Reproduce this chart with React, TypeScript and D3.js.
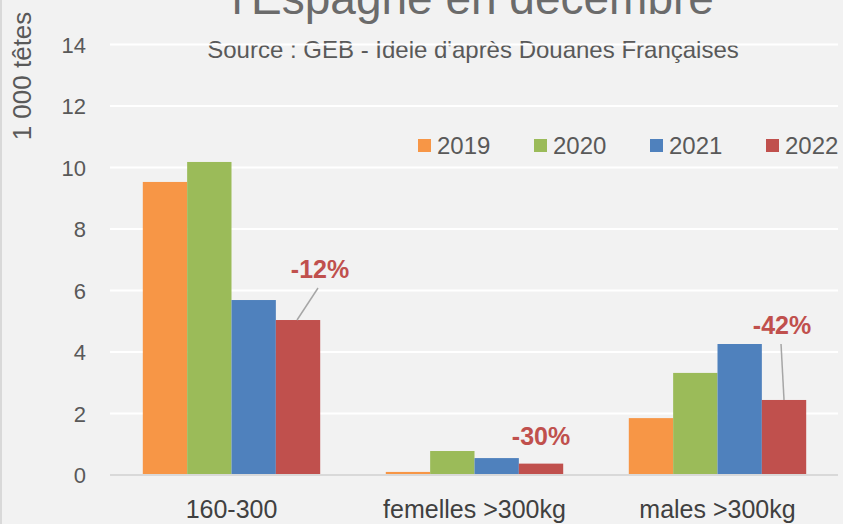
import React from "react";
import * as d3 from "d3";

const categories = ["160-300", "femelles >300kg", "males >300kg"];
const years = ["2019", "2020", "2021", "2022"];
const v2019 = [9.53, 0.1, 1.85];
const v2020 = [10.18, 0.78, 3.32];
const v2021 = [5.69, 0.55, 4.26];
const v2022 = [5.04, 0.37, 2.44];
const changeLabels = ["-12%", "-30%", "-42%"];
const yTicks = [0, 2, 4, 6, 8, 10, 12, 14];

const colors = ["#f79646", "#9bbb59", "#4f81bd", "#c0504d"];
const W = 843;
const H = 524;
const FONT = "'Liberation Sans', Arial, sans-serif";
const TXT = "#595959";

// layout for annotations (label offsets relative to the 2022 bar top)
const annLayout = [
  { dx: 22, dy: -42, line: true },
  { dx: 0, dy: -19, line: false },
  { dx: -2, dy: -66, line: true },
];

export default function App() {
  const series = [v2019, v2020, v2021, v2022];
  const x0 = d3
    .scaleBand<string>()
    .domain(categories)
    .range([110, 839])
    .paddingInner(0.27)
    .paddingOuter(0.135);
  const x1 = d3.scaleBand<string>().domain(years).range([0, x0.bandwidth()]).padding(0);
  const y = d3.scaleLinear().domain([0, 14]).range([475, 44.5]);

  return (
    <svg
      width={W}
      height={H}
      style={{ position: "absolute", left: 0, top: 0, background: "#f2f2f2" }}
      fontFamily={FONT}
    >
      <rect x={0} y={0} width={W} height={H} fill="#f2f2f2" />
      <rect x={0} y={0} width={2} height={H} fill="#d9d9d9" />

      {/* title (partially clipped, as in the reference) */}
      <text x={473} y={14} textAnchor="middle" fontSize={46} fill="#6b6b6b">
        l'Espagne en décembre
      </text>
      <text x={473} y={58} textAnchor="middle" fontSize={24} fill={TXT}>
        Source : GEB - Idele d'après Douanes Françaises
      </text>

      {/* y axis label */}
      <text
        transform={`translate(31,76) rotate(-90)`}
        textAnchor="middle"
        fontSize={26}
        fill={TXT}
      >
        1 000 têtes
      </text>

      {/* gridlines */}
      {yTicks.map((t) => (
        <g key={t}>
          {t > 0 && (
            <line x1={110} x2={838} y1={y(t)} y2={y(t)} stroke="#ffffff" strokeWidth={2} />
          )}
          <text x={86} y={y(t) + 8} textAnchor="end" fontSize={22} fill={TXT}>
            {t}
          </text>
        </g>
      ))}

      {/* bars */}
      {categories.map((c, ci) => (
        <g key={c} transform={`translate(${x0(c)},0)`}>
          {years.map((yr, si) => (
            <rect
              key={yr}
              x={x1(yr)}
              y={y(series[si][ci])}
              width={x1.bandwidth()}
              height={y(0) - y(series[si][ci])}
              fill={colors[si]}
            />
          ))}
        </g>
      ))}

      {/* baseline */}
      <line x1={110} x2={838} y1={y(0)} y2={y(0)} stroke="#d9d9d9" strokeWidth={2} />

      {/* category labels */}
      {categories.map((c) => (
        <text
          key={c}
          x={(x0(c) as number) + x0.bandwidth() / 2}
          y={518}
          textAnchor="middle"
          fontSize={25}
          fill="#404040"
        >
          {c}
        </text>
      ))}

      {/* legend */}
      {years.map((yr, i) => (
        <g key={yr} transform={`translate(${418 + i * 116},139)`}>
          <rect x={0} y={0} width={13} height={13} fill={colors[i]} />
          <text x={19} y={15} fontSize={24} fill={TXT}>
            {yr}
          </text>
        </g>
      ))}

      {/* annotations */}
      {categories.map((c, ci) => {
        const bx = (x0(c) as number) + (x1("2022") as number) + x1.bandwidth() / 2;
        const by = y(v2022[ci]);
        const a = annLayout[ci];
        const lx = bx + a.dx;
        const ly = by + a.dy;
        return (
          <g key={c}>
            {a.line && (
              <line
                x1={ci === 0 ? bx - 1 : bx}
                y1={by}
                x2={ci === 0 ? lx - 2 : lx - 1}
                y2={ly + 10}
                stroke="#a6a6a6"
                strokeWidth={1.5}
              />
            )}
            <text
              x={lx}
              y={ly}
              textAnchor="middle"
              fontSize={25}
              fontWeight="bold"
              fill="#c0504d"
            >
              {changeLabels[ci]}
            </text>
          </g>
        );
      })}
    </svg>
  );
}
